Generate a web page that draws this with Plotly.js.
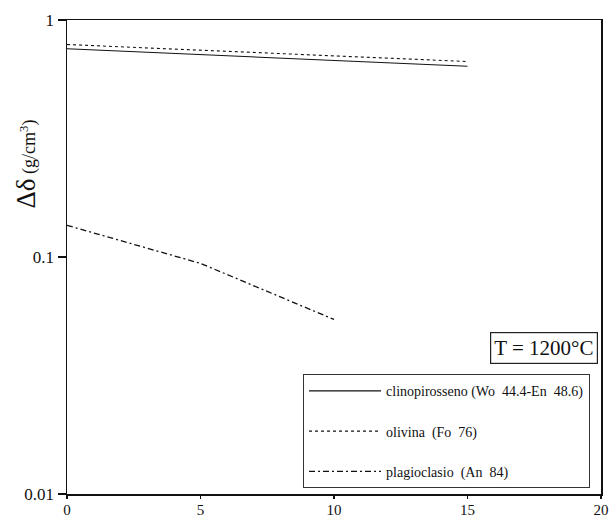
<!DOCTYPE html>
<html>
<head>
<meta charset="utf-8">
<script src="https://cdn.plot.ly/plotly-3.0.1.min.js"></script>
<style>html,body{margin:0;padding:0;background:#fff;}#chart{width:609px;height:519px;}</style>
</head>
<body>
<div id="chart"></div>
<script>
// Data
const clinoX = [0, 15];
const clinoY = [0.756, 0.638];
const olivX = [0, 15];
const olivY = [0.788, 0.668];
const plagX = [0, 5, 10];
const plagY = [0.136, 0.094, 0.0545];
const seriesNames = ['clinopirosseno (Wo  44.4-En  48.6)', 'olivina  (Fo  76)', 'plagioclasio  (An  84)'];
const yTickVals = [0.01, 0.1, 1];
const yTickText = ['0.01', '0.1', '1'];
const xTickVals = [0, 5, 10, 15, 20];

const serif = 'Liberation Serif';
const ink = '#111';

const traces = [
  {x: clinoX, y: clinoY, name: seriesNames[0], mode: 'lines', legendgroup: 'a',
   line: {color: ink, width: 1.1, dash: 'solid'}},
  {x: olivX, y: olivY, name: seriesNames[1], mode: 'lines', legendgroup: 'b',
   line: {color: ink, width: 1.1, dash: '3px,3px'}},
  {x: plagX, y: plagY, name: seriesNames[2], mode: 'lines', legendgroup: 'c',
   line: {color: ink, width: 1.3, dash: '6px,3px,2px,3px'}}
];

const layout = {
  width: 609, height: 519,
  margin: {l: 67, r: 8, t: 20, b: 25},
  paper_bgcolor: '#fff', plot_bgcolor: '#fff',
  font: {family: serif, color: ink, size: 15},
  showlegend: true,
  legend: {
    x: 0.442, y: 0.012, xanchor: 'left', yanchor: 'bottom',
    bordercolor: '#333', borderwidth: 1, bgcolor: '#fff',
    font: {family: serif, size: 14, color: ink},
    tracegroupgap: 19, traceorder: 'grouped', itemwidth: 72
  },
  xaxis: {
    range: [0, 20], tickvals: xTickVals, ticks: 'outside', ticklen: 3, tickwidth: 1.2,
    tickcolor: ink, showline: true, linecolor: ink, linewidth: 1.5, mirror: true,
    showgrid: false, zeroline: false, ticklabelstandoff: -2,
    tickfont: {family: serif, size: 15, color: ink}
  },
  yaxis: {
    type: 'log', range: [-2, 0], tickvals: yTickVals, ticktext: yTickText,
    ticks: 'outside', ticklen: 8, tickwidth: 1.2, tickcolor: ink,
    showline: true, linecolor: ink, linewidth: 1.5, mirror: true,
    showgrid: false, zeroline: false, tickfont: {family: serif, size: 17, color: ink}
  },
  annotations: [
    {text: '<span style="font-size:27px">Δδ</span> (g/cm<sup>3</sup>)', textangle: -90,
     xref: 'paper', yref: 'paper', x: -0.077, y: 0.697, xanchor: 'center', yanchor: 'middle',
     showarrow: false, font: {family: serif, size: 18, color: ink}},
    {text: 'T = 1200°C', xref: 'paper', yref: 'paper', x: 0.995, y: 0.307, xanchor: 'right', yanchor: 'middle',
     showarrow: false, bordercolor: '#222', borderwidth: 1.2, borderpad: 3, bgcolor: '#fff',
     font: {family: serif, size: 21, color: ink}}
  ]
};

Plotly.newPlot('chart', traces, layout, {displayModeBar: false, staticPlot: true});
</script>
</body>
</html>
